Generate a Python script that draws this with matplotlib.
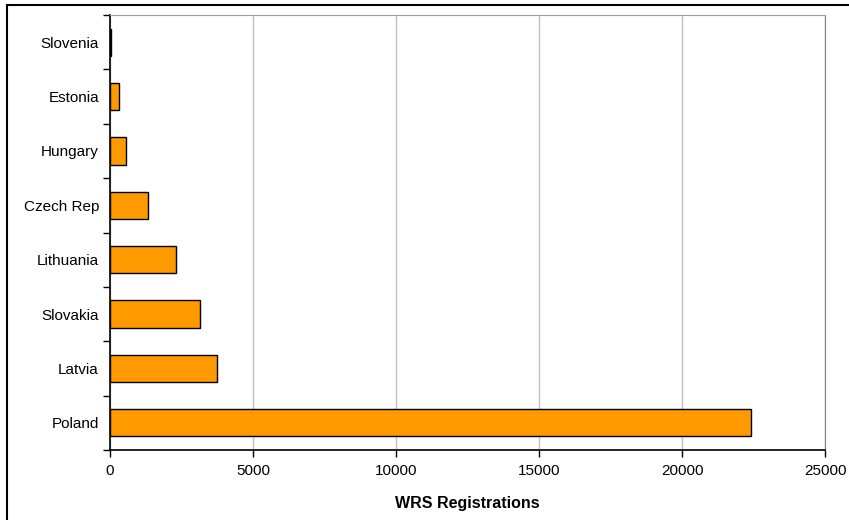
import numpy as np
import matplotlib.pyplot as plt
from matplotlib.patches import Rectangle

# data ------------------------------------------------------------------------
countries = ["Poland", "Latvia", "Slovakia", "Lithuania", "Czech Rep",
             "Hungary", "Estonia", "Slovenia"]
registrations = [22400, 3750, 3135, 2300, 1340, 560, 325, 45]
xticks = [0, 5000, 10000, 15000, 20000, 25000]

plt.rcParams['font.family'] = ['Liberation Sans', 'DejaVu Sans']

fig = plt.figure(figsize=(8.49, 5.2), dpi=100)
ax = fig.add_axes([110/849, 1-450/520, 715/849, 435/520])

y = np.arange(len(countries))
ax.barh(y, registrations, height=0.5, color='#FF9900', edgecolor='black',
        linewidth=1.0, zorder=3)

ax.set_xlim(0, 25000)
ax.set_ylim(-0.5, len(countries)-0.5)
ax.set_xticks(xticks)
ax.set_xticklabels([str(t) for t in xticks], fontsize=11)
ax.set_yticks(y)
ax.set_yticklabels(countries, fontsize=11)
ax.tick_params(axis='y', length=0, pad=8)
ax.set_yticks(np.arange(len(countries)+1)-0.5, minor=True)
ax.tick_params(axis='y', which='minor', length=5, direction='out', width=1)
ax.tick_params(axis='x', length=5, direction='out', width=1, pad=5)

ax.grid(axis='x', color='#c0c0c0', linewidth=1, zorder=0)
ax.spines['top'].set_color('#a0a0a0')
ax.spines['right'].set_color('#808080')
ax.spines['left'].set_linewidth(1.2)
ax.spines['bottom'].set_linewidth(1.2)

ax.set_xlabel("WRS Registrations", fontsize=11.5, fontweight='bold', labelpad=13)

# outer chart border
fig.patches.append(Rectangle((7/849, -0.1), 1.2, 1.1-5/520, transform=fig.transFigure,
                             fill=False, edgecolor='black', linewidth=1.5))

fig.savefig("out.png", dpi=100)
